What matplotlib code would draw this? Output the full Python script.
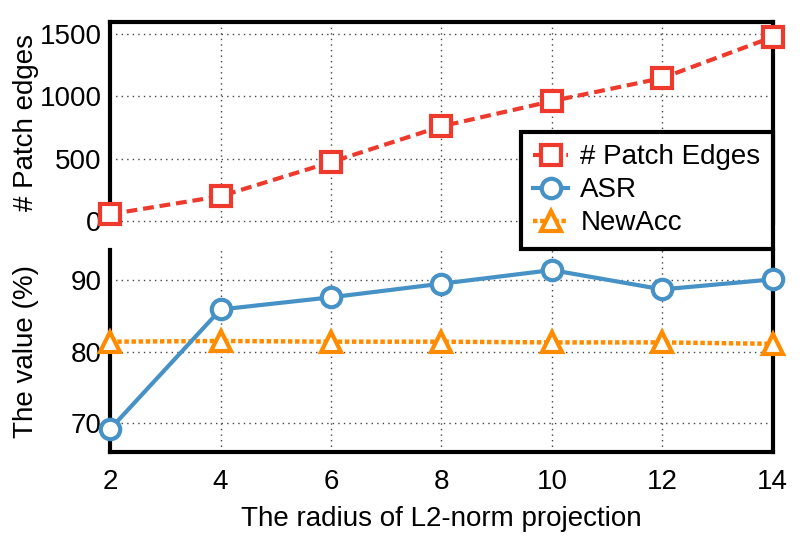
import matplotlib
matplotlib.use("Agg")
import matplotlib.pyplot as plt

radius = [2, 4, 6, 8, 10, 12, 14]
patch_edges = [56, 200, 473, 760, 962, 1147, 1476]
asr = [69.2, 85.9, 87.6, 89.5, 91.4, 88.7, 90.1]
newacc = [81.4, 81.5, 81.4, 81.4, 81.3, 81.3, 81.1]
xticks = [2, 4, 6, 8, 10, 12, 14]
top_yticks = [0, 500, 1000, 1500]
bot_yticks = [70, 80, 90]

plt.rcParams['font.family'] = ['Liberation Sans', 'DejaVu Sans']
FS = 20

RED = '#EE3A2C'
BLUE = '#4692C6'
ORANGE = '#FF8C00'

fig = plt.figure(figsize=(8.1, 5.4), dpi=100)
ax1 = fig.add_axes([0.136, 0.587, 0.818, 0.372])
ax2 = fig.add_axes([0.136, 0.163, 0.818, 0.374])

l1, = ax1.plot(radius, patch_edges, color=RED, ls=(0, (2.6, 1.4)), lw=3,
               marker='s', ms=14, mfc='white', mec=RED, mew=3,
               clip_on=False, zorder=5, label='# Patch Edges')
l2, = ax2.plot(radius, asr, color=BLUE, ls='-', lw=3,
               marker='o', ms=14, mfc='white', mec=BLUE, mew=3,
               clip_on=False, zorder=5, label='ASR')
l3, = ax2.plot(radius, newacc, color=ORANGE, ls=(0, (1, 0.6)), lw=3.2,
               marker='^', ms=14, mfc='white', mec=ORANGE, mew=3,
               clip_on=False, zorder=4, label='NewAcc')

for ax in (ax1, ax2):
    ax.set_xlim(2, 14)
    ax.set_xticks(xticks)
    ax.grid(True, ls=(0, (1, 3)), color='#444444', lw=1)
    ax.tick_params(length=0, labelsize=FS, pad=6)
    for s in ax.spines.values():
        s.set_linewidth(3)
        s.set_color('black')

ax1.set_ylim(-15, 1595)
ax1.set_yticks(top_yticks)
ax1.tick_params(axis='x', labelbottom=False)
ax1.spines['bottom'].set_visible(False)
ax1.set_ylabel('# Patch edges', fontsize=FS)

ax2.set_ylim(66, 94.2)
ax2.set_yticks(bot_yticks)
ax2.spines['top'].set_visible(False)
ax2.set_ylabel('The value (%)', fontsize=FS)
ax2.set_xlabel('The radius of L2-norm projection', fontsize=FS, labelpad=8)
ax2.tick_params(axis='x', pad=12)

ax1.yaxis.set_label_coords(-0.108, 0.5)
ax2.yaxis.set_label_coords(-0.108, 0.5)

leg = fig.legend(handles=[l1, l2, l3], loc='upper right',
                 bbox_to_anchor=(773 / 810, 1 - 132 / 540),
                 fontsize=FS, frameon=True, fancybox=False,
                 borderpad=0.45, labelspacing=0.25, handlelength=1.25,
                 handletextpad=0.45, borderaxespad=0)
leg.get_frame().set_edgecolor('black')
leg.get_frame().set_linewidth(3)
leg.get_frame().set_alpha(1)
leg.set_zorder(10)

fig.savefig('out.png', dpi=100)
